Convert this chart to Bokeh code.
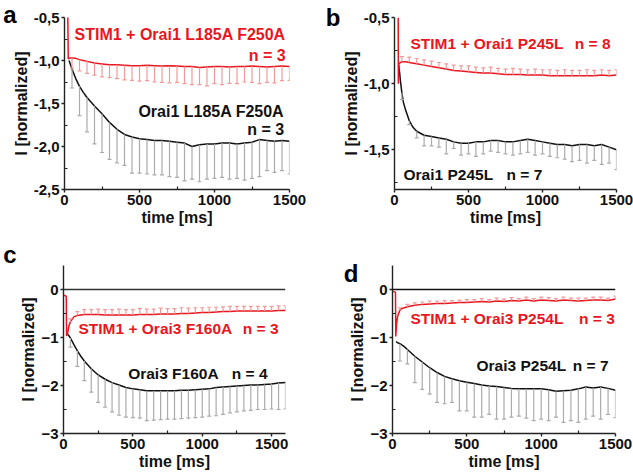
from bokeh.plotting import figure
from bokeh.layouts import column, row
from bokeh.models import Label, FixedTicker, Span, Range1d, CustomJSTickFormatter, LinearAxis
from bokeh.embed import file_html
from bokeh.resources import INLINE

# ---------------- data ----------------
# Panel a: Orai1 L185A F250A
a_red_t = [22, 25, 40, 50, 75, 100, 125, 150, 200, 250, 300, 350, 400, 450, 500, 550, 600, 650, 700, 750,
           800, 850, 900, 950, 1000, 1050, 1100, 1150, 1200, 1250, 1300, 1350, 1400, 1450, 1500]
a_red_y = [-0.48, -0.98, -0.97, -0.97, -0.975, -0.99, -1.00, -1.01, -1.03, -1.04, -1.05, -1.05, -1.055, -1.06,
           -1.06, -1.055, -1.06, -1.065, -1.06, -1.065, -1.07, -1.07, -1.08, -1.075, -1.07, -1.07, -1.075, -1.07,
           -1.07, -1.065, -1.07, -1.075, -1.07, -1.065, -1.07]
a_blk_t = [30, 40, 50, 75, 100, 125, 150, 200, 250, 300, 350, 400, 450, 500, 550, 600, 650, 700, 750, 800,
           850, 900, 950, 1000, 1050, 1100, 1150, 1200, 1250, 1300, 1350, 1400, 1450, 1500]
a_blk_y = [-1.00, -1.05, -1.10, -1.21, -1.30, -1.37, -1.43, -1.53, -1.62, -1.72, -1.80, -1.86, -1.89, -1.91,
           -1.92, -1.93, -1.93, -1.94, -1.95, -1.96, -2.00, -1.98, -1.97, -1.97, -1.96, -1.96, -1.97, -1.96,
           -1.95, -1.92, -1.93, -1.94, -1.93, -1.94]
a_err_t = [50, 100, 150, 200, 250, 300, 350, 400, 450, 500, 550, 600, 650, 700, 750, 800, 850, 900, 950,
           1000, 1050, 1100, 1150, 1200, 1250, 1300, 1350, 1400, 1450, 1500]
a_red_err = [0.12, 0.13, 0.14, 0.14, 0.15, 0.15, 0.16, 0.17, 0.17, 0.18, 0.18, 0.19, 0.19, 0.20, 0.19, 0.20,
             0.21, 0.20, 0.22, 0.20, 0.21, 0.19, 0.20, 0.18, 0.19, 0.20, 0.18, 0.19, 0.17, 0.16]
a_blk_err = [0.22, 0.34, 0.40, 0.44, 0.45, 0.43, 0.39, 0.36, 0.42, 0.40, 0.40, 0.40, 0.40, 0.41, 0.41, 0.44,
             0.38, 0.43, 0.41, 0.40, 0.40, 0.42, 0.40, 0.43, 0.42, 0.43, 0.35, 0.36, 0.35, 0.38]

# Panel b: Orai1 P245L
b_red_t = [25, 26, 30, 40, 50, 75, 100, 150, 200, 250, 300, 350, 400, 450, 500, 550, 600, 650, 700, 750, 800,
           850, 900, 950, 1000, 1050, 1100, 1150, 1200, 1250, 1300, 1350, 1400, 1450, 1500]
b_red_y = [-0.50, -1.00, -0.85, -0.84, -0.835, -0.835, -0.84, -0.85, -0.86, -0.87, -0.88, -0.89, -0.90, -0.905,
           -0.91, -0.915, -0.92, -0.92, -0.925, -0.93, -0.93, -0.93, -0.935, -0.935, -0.935, -0.94, -0.94,
           -0.94, -0.94, -0.94, -0.94, -0.94, -0.935, -0.94, -0.935]
b_blk_t = [28, 35, 40, 50, 60, 75, 100, 125, 150, 200, 250, 300, 350, 400, 450, 500, 550, 600, 650, 700, 750,
           800, 850, 900, 950, 1000, 1050, 1100, 1150, 1200, 1250, 1300, 1350, 1400, 1450, 1500]
b_blk_y = [-0.86, -0.92, -0.98, -1.07, -1.14, -1.20, -1.28, -1.33, -1.36, -1.39, -1.40, -1.41, -1.42, -1.44,
           -1.45, -1.45, -1.44, -1.44, -1.43, -1.43, -1.44, -1.44, -1.43, -1.42, -1.43, -1.44, -1.45, -1.46,
           -1.46, -1.47, -1.46, -1.46, -1.47, -1.46, -1.48, -1.50]
b_err_t = a_err_t
b_red_err = [0.04, 0.04, 0.04, 0.04, 0.04, 0.04, 0.04, 0.04, 0.04, 0.045, 0.04, 0.04, 0.045, 0.04, 0.04,
             0.045, 0.04, 0.04, 0.045, 0.04, 0.045, 0.04, 0.045, 0.04, 0.04, 0.045, 0.04, 0.04, 0.04, 0.04]
b_blk_err = [0.05, 0.03, 0.05, 0.08, 0.07, 0.07, 0.11, 0.05, 0.09, 0.08, 0.11, 0.09, 0.08, 0.09, 0.09, 0.10,
             0.10, 0.10, 0.11, 0.09, 0.10, 0.10, 0.11, 0.12, 0.12, 0.14, 0.11, 0.15, 0.12, 0.15]

# Panel c: Orai3 F160A
c_red_t = [5, 15, 20, 22, 30, 40, 50, 75, 100, 150, 200, 250, 300, 350, 400, 450, 500, 550, 600, 650, 700,
           750, 800, 850, 900, 950, 1000, 1050, 1100, 1150, 1200, 1250, 1300, 1350, 1400, 1450, 1500, 1550, 1600]
c_red_y = [-0.12, -0.13, -0.15, -0.97, -0.90, -0.75, -0.67, -0.57, -0.54, -0.52, -0.52, -0.52, -0.53, -0.53,
           -0.53, -0.53, -0.53, -0.52, -0.52, -0.52, -0.51, -0.51, -0.51, -0.50, -0.50, -0.49, -0.48, -0.48,
           -0.47, -0.46, -0.46, -0.45, -0.45, -0.45, -0.45, -0.45, -0.45, -0.44, -0.44]
c_blk_t = [25, 30, 40, 50, 75, 100, 125, 150, 200, 250, 300, 350, 400, 450, 500, 550, 600, 650, 700, 750,
           800, 850, 900, 950, 1000, 1050, 1100, 1150, 1200, 1250, 1300, 1350, 1400, 1450, 1500, 1550, 1600]
c_blk_y = [-0.93, -0.93, -0.97, -1.01, -1.15, -1.28, -1.39, -1.49, -1.65, -1.78, -1.87, -1.94, -1.99, -2.04,
           -2.07, -2.09, -2.11, -2.11, -2.11, -2.11, -2.11, -2.10, -2.10, -2.09, -2.08, -2.07, -2.04, -2.03,
           -2.02, -2.01, -2.00, -1.99, -1.99, -1.98, -1.97, -1.95, -1.94]
c_err_t = [50, 100, 150, 200, 250, 300, 350, 400, 450, 500, 550, 600, 650, 700, 750, 800, 850, 900, 950,
           1000, 1050, 1100, 1150, 1200, 1250, 1300, 1350, 1400, 1450, 1500, 1550, 1600]
c_red_err = [0.06, 0.08, 0.10, 0.10, 0.11, 0.11, 0.11, 0.12, 0.11, 0.11, 0.12, 0.11, 0.11, 0.12, 0.11, 0.11,
             0.12, 0.11, 0.11, 0.10, 0.11, 0.10, 0.10, 0.11, 0.10, 0.10, 0.10, 0.10, 0.10, 0.10, 0.10, 0.10]
c_blk_err = [0.19, 0.32, 0.41, 0.49, 0.57, 0.58, 0.61, 0.63, 0.62, 0.60, 0.59, 0.62, 0.61, 0.60, 0.59, 0.59,
             0.59, 0.58, 0.58, 0.58, 0.57, 0.59, 0.57, 0.55, 0.54, 0.53, 0.53, 0.51, 0.52, 0.52, 0.55, 0.55]

# Panel d: Orai3 P254L
d_red_t = [5, 15, 20, 22, 28, 35, 50, 60, 80, 100, 150, 200, 250, 300, 350, 400, 450, 500, 550, 600, 650, 700,
           750, 800, 850, 900, 950, 1000, 1050, 1100, 1150, 1200, 1250, 1300, 1350, 1400, 1450, 1500]
d_red_y = [-0.04, -0.05, -0.06, -0.98, -0.70, -0.55, -0.43, -0.40, -0.38, -0.36, -0.33, -0.31, -0.30, -0.29,
           -0.29, -0.28, -0.27, -0.27, -0.26, -0.25, -0.26, -0.24, -0.25, -0.23, -0.24, -0.22, -0.24, -0.22,
           -0.23, -0.24, -0.22, -0.23, -0.24, -0.23, -0.22, -0.22, -0.23, -0.20]
d_blk_t = [25, 30, 50, 75, 100, 150, 200, 250, 300, 350, 400, 450, 500, 550, 600, 650, 700, 750, 800, 850,
           900, 950, 1000, 1050, 1100, 1150, 1200, 1250, 1300, 1350, 1400, 1450, 1500]
d_blk_y = [-1.08, -1.10, -1.13, -1.18, -1.25, -1.39, -1.51, -1.63, -1.73, -1.81, -1.86, -1.90, -1.93, -1.96,
           -1.99, -2.01, -2.02, -2.04, -2.06, -2.07, -2.07, -2.07, -2.07, -2.09, -2.12, -2.11, -2.10, -2.07,
           -2.03, -2.05, -2.03, -2.06, -2.10]
d_err_t = a_err_t
d_red_err = [0.05, 0.05, 0.05, 0.05, 0.06, 0.05, 0.06, 0.05, 0.05, 0.06, 0.05, 0.06, 0.05, 0.06, 0.05, 0.06,
             0.05, 0.06, 0.05, 0.06, 0.06, 0.05, 0.06, 0.05, 0.06, 0.05, 0.06, 0.06, 0.05, 0.06]
d_blk_err = [0.36, 0.30, 0.55, 0.57, 0.55, 0.62, 0.57, 0.49, 0.63, 0.60, 0.70, 0.67, 0.59, 0.68, 0.66, 0.60,
             0.57, 0.61, 0.66, 0.63, 0.64, 0.54, 0.66, 0.63, 0.70, 0.67, 0.59, 0.67, 0.54, 0.57]

# ---------------- styling ----------------
RED = "#e8161e"
PINK = "#f29a9a"
BLACK = "#111111"
GREY = "#ababab"
FONT = "Liberation Sans"

comma_fmt = CustomJSTickFormatter(code="return tick.toFixed(1).replace('.', ',');")


def style_axes(p, xticks, xminor, yticks, yminor, comma):
    p.outline_line_color = None
    p.xgrid.visible = False
    p.ygrid.visible = False
    p.xaxis.ticker = FixedTicker(ticks=xticks, minor_ticks=xminor)
    p.yaxis.ticker = FixedTicker(ticks=yticks, minor_ticks=yminor)
    if comma:
        p.yaxis.formatter = comma_fmt
    for ax in (p.xaxis[0], p.yaxis[0]):
        ax.axis_line_color = "#222222"
        ax.axis_line_width = 1.4
        ax.major_tick_line_color = "#222222"
        ax.major_tick_line_width = 1.4
        ax.major_tick_in = 0
        ax.major_tick_out = 3
        ax.minor_tick_line_color = "#222222"
        ax.minor_tick_line_width = 1.2
        ax.minor_tick_in = 3
        ax.minor_tick_out = 0
        ax.major_label_text_font = FONT
        ax.major_label_text_font_style = "bold"
        ax.major_label_text_font_size = "15px"
        ax.major_label_text_color = "#111111"
        ax.major_label_standoff = 2
        ax.axis_label_text_font = FONT
        ax.axis_label_text_font_style = "bold"
        ax.axis_label_text_font_size = "16px"
        ax.axis_label_text_color = "#111111"
        ax.axis_label_standoff = 1
    p.xaxis.axis_label = "time [ms]"
    p.yaxis.axis_label = "I [normalized]"


def draw_series(p, t, y, et, err, line_color, bar_color, up):
    p.line(t, y, line_color=line_color, line_width=1.5)
    ymap = dict(zip(t, y))
    y0 = [ymap[v] for v in et]
    sign = 1 if up else -1
    y1 = [ymap[v] + sign * e for v, e in zip(et, err)]
    p.segment(x0=et, y0=y0, x1=et, y1=y1, line_color=bar_color, line_width=1.2)
    p.scatter(et, y1, marker="dash", size=4, line_color=bar_color, line_width=1.2)


def text(p, x, y, s, color, align, size):
    p.add_layout(Label(x=x, y=y, text=s, text_color=color, text_align=align, text_baseline="middle",
                       text_font=FONT, text_font_style="bold", text_font_size=size))


def letter(p, s, standoff, line_height):
    # panel letter: label of a bare extra axis placed left of the y axis, aligned to its top end
    ax = LinearAxis(ticker=FixedTicker(ticks=[]), axis_line_color=None, major_tick_line_color=None,
                    minor_tick_line_color=None, axis_label=s, axis_label_orientation="horizontal",
                    axis_label_standoff=standoff, axis_label_text_font=FONT,
                    axis_label_text_font_style="bold", axis_label_text_font_size="24px",
                    axis_label_text_color="#000000", axis_label_text_line_height=line_height)
    try:
        ax.axis_label_align = "end"
    except Exception:
        pass
    p.add_layout(ax, "left")


def make(w, h, xr, yr, bl, br, bt, bb):
    return figure(width=w, height=h, x_range=Range1d(*xr), y_range=Range1d(*yr), output_backend="svg",
                  toolbar_location=None, min_border_left=bl, min_border_right=br, min_border_top=bt,
                  min_border_bottom=bb)


# ---- panel a ----
pa = make(318, 233, (0, 1500), (-2.5, -0.5), 63, 29, 16, 44)
style_axes(pa, [0, 500, 1000, 1500], [250, 750, 1250], [-2.5, -2.0, -1.5, -1.0, -0.5],
           [-2.25, -1.75, -1.25, -0.75], True)
draw_series(pa, a_blk_t, a_blk_y, a_err_t, a_blk_err, BLACK, GREY, False)
draw_series(pa, a_red_t, a_red_y, a_err_t, a_red_err, RED, PINK, False)
text(pa, 1475, -0.70, "STIM1 + Orai1 L185A F250A", RED, "right", "16px")
text(pa, 1475, -0.94, "n = 3", RED, "right", "16px")
text(pa, 1465, -1.59, "Orai1 L185A F250A", BLACK, "right", "16px")
text(pa, 1465, -1.80, "n = 3", BLACK, "right", "16px")
letter(pa, "a\n", -7, 0.2)

# ---- panel b ----
pb = make(315, 233, (0, 1500), (-1.8, -0.5), 76, 17, 17, 44)
style_axes(pb, [0, 500, 1000, 1500], [250, 750, 1250], [-1.5, -1.0, -0.5], [-1.75, -1.25, -0.75], True)
draw_series(pb, b_blk_t, b_blk_y, b_err_t, b_blk_err, BLACK, GREY, False)
draw_series(pb, b_red_t, b_red_y, b_err_t, b_red_err, RED, PINK, True)
text(pb, 108, -0.70, "STIM1 + Orai1 P245L", RED, "left", "15.5px")
text(pb, 1460, -0.70, "n = 8", RED, "right", "15.5px")
text(pb, 61, -1.69, "Orai1 P245L", BLACK, "left", "15.5px")
text(pb, 757, -1.69, "n = 7", BLACK, "left", "15.5px")
letter(pb, "b", -1, 1.0)

# ---- panel c ----
pc = make(318, 241, (0, 1600), (-3, 0.5), 62, 33, 32, 40)
style_axes(pc, [0, 500, 1000, 1500], [250, 750, 1250], [-3, -2, -1, 0], [-2.5, -1.5, -0.5], False)
pc.add_layout(Span(location=0, dimension="width", line_color="#333333", line_width=1.3))
draw_series(pc, c_blk_t, c_blk_y, c_err_t, c_blk_err, BLACK, GREY, False)
draw_series(pc, c_red_t, c_red_y, c_err_t, c_red_err, RED, PINK, True)
text(pc, 108, -0.82, "STIM1 + Orai3 F160A", RED, "left", "15.5px")
text(pc, 1550, -0.82, "n = 3", RED, "right", "15.5px")
text(pc, 466, -1.75, "Orai3 F160A", BLACK, "left", "15.5px")
text(pc, 1471, -1.75, "n = 4", BLACK, "right", "15.5px")
letter(pc, "c\n", 1, 0.85)

# ---- panel d ----
pd = make(315, 241, (0, 1500), (-3, 0.5), 74, 18, 29, 41)
style_axes(pd, [0, 500, 1000, 1500], [250, 750, 1250], [-3, -2, -1, 0], [-2.5, -1.5, -0.5], False)
pd.add_layout(Span(location=0, dimension="width", line_color="#111111", line_width=1.5))
draw_series(pd, d_blk_t, d_blk_y, d_err_t, d_blk_err, BLACK, GREY, False)
draw_series(pd, d_red_t, d_red_y, d_err_t, d_red_err, RED, PINK, True)
text(pd, 121, -0.61, "STIM1 + Orai3 P254L", RED, "left", "15.5px")
text(pd, 1495, -0.61, "n = 3", RED, "right", "15.5px")
text(pd, 565, -1.585, "Orai3 P254L", BLACK, "left", "15.5px")
text(pd, 1453, -1.585, "n = 7", BLACK, "right", "15.5px")
letter(pd, "\nd", -12, 0.6)

layout = column(row(pa, pb), row(pc, pd))
open("out.html", "w").write(file_html(layout, INLINE))
